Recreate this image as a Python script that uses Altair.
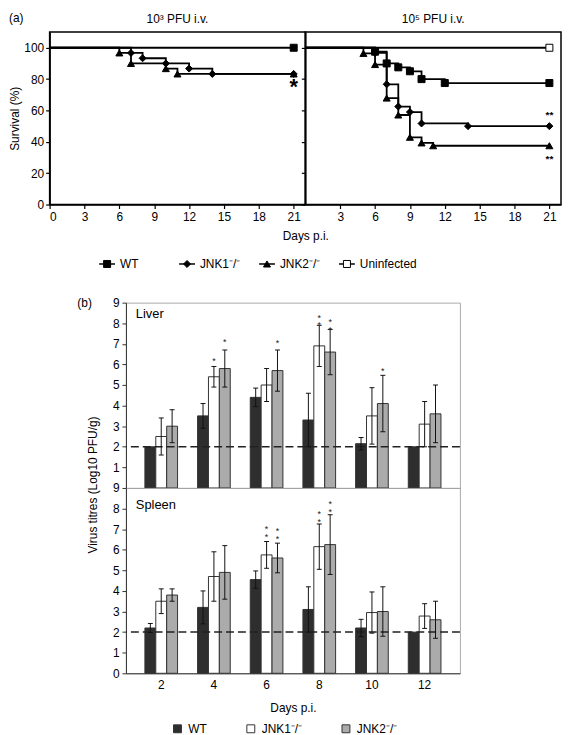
import altair as alt
import pandas as pd

# ---------------- Panel (a): survival curves ----------------
series_names = ["WT", "JNK1", "JNK2", "Uninfected"]
series_labels = ["WT", "JNK1\u207b/\u207b", "JNK2\u207b/\u207b", "Uninfected"]
series_shapes = ["square", "diamond", "triangle-up", "square"]
series_fills = ["black", "black", "black", "white"]

# 10^3 PFU i.v.
low_wt_days = [0, 21]
low_wt_surv = [100, 100]
low_jnk1_days = [0, 7, 8, 10, 12, 14, 21]
low_jnk1_surv = [100, 96.7, 93.3, 90.0, 86.7, 83.3, 83.3]
low_jnk2_days = [0, 6, 7, 10, 11, 21]
low_jnk2_surv = [100, 96.7, 90.0, 86.7, 83.3, 83.3]

# 10^5 PFU i.v.
high_unin_days = [0, 21]
high_unin_surv = [100, 100]
high_wt_days = [0, 6, 7, 8, 9, 10, 12, 21]
high_wt_surv = [100, 97.5, 90.0, 87.5, 85.0, 80.0, 77.5, 77.5]
high_jnk1_days = [0, 6, 7, 8, 9, 10, 14, 21]
high_jnk1_surv = [100, 96.7, 76.7, 62.5, 59.0, 51.7, 50.0, 50.0]
high_jnk2_days = [0, 5, 6, 7, 8, 9, 10, 11, 21]
high_jnk2_surv = [100, 96.4, 89.3, 67.9, 57.1, 42.9, 39.3, 37.5, 37.5]

sig_low_day = [21]
sig_low_val = [75]
sig_low_txt = ["*"]
sig_high_day = [21, 21]
sig_high_val = [57, 29]
sig_high_txt = ["**", "**"]

days_ticks_low = [0, 3, 6, 9, 12, 15, 18, 21]
days_ticks_high = [3, 6, 9, 12, 15, 18, 21]
surv_ticks = [0, 20, 40, 60, 80, 100]

# ---------------- Panel (b): virus titres ----------------
days_b = [2, 4, 6, 8, 10, 12]
geno_names = ["WT", "JNK1\u207b/\u207b", "JNK2\u207b/\u207b"]
geno_colors = ["#2e2e2e", "white", "#ababab"]

liver_wt = [2.0, 3.5, 4.4, 3.3, 2.15, 2.0]
liver_wt_err = [0, 0.6, 0.45, 1.3, 0.3, 0]
liver_jnk1 = [2.5, 5.4, 5.0, 6.9, 3.5, 3.1]
liver_jnk1_err = [0.9, 0.5, 0.8, 1.0, 1.37, 1.1]
liver_jnk2 = [3.0, 5.8, 5.7, 6.6, 4.1, 3.6]
liver_jnk2_err = [0.8, 0.9, 1.0, 1.1, 1.37, 1.4]

spleen_wt = [2.2, 3.2, 4.55, 3.1, 2.2, 2.0]
spleen_wt_err = [0.22, 0.8, 0.42, 1.1, 0.42, 0]
spleen_jnk1 = [3.5, 4.7, 5.75, 6.15, 2.95, 2.78]
spleen_jnk1_err = [0.6, 1.2, 0.65, 1.1, 1.0, 0.6]
spleen_jnk2 = [3.8, 4.9, 5.6, 6.25, 3.0, 2.6]
spleen_jnk2_err = [0.3, 1.3, 0.72, 1.45, 1.2, 0.9]

liver_star_day = [4, 4, 6, 8, 8, 10]
liver_star_geno = [1, 2, 2, 1, 2, 2]
liver_star_val = [6.33, 7.24, 7.19, 8.42, 8.22, 5.83]
liver_star_txt = ["*", "*", "*", "*\n*", "*\n*", "*"]
spleen_star_day = [6, 6, 8, 8]
spleen_star_geno = [1, 2, 1, 2]
spleen_star_val = [7.15, 7.03, 7.88, 8.38]
spleen_star_txt = ["*\n*", "*\n*", "*\n*", "*\n*"]

# ---------------- build tables ----------------
def surv_df(parts):
    rows = []
    for name, days, surv in parts:
        for d, s in zip(days, surv):
            rows.append({"day": d, "surv": s, "series": name})
    return pd.DataFrame(rows)

df_low = surv_df([("WT", low_wt_days, low_wt_surv),
                  ("JNK1", low_jnk1_days, low_jnk1_surv),
                  ("JNK2", low_jnk2_days, low_jnk2_surv)])
df_high = surv_df([("Uninfected", high_unin_days, high_unin_surv),
                   ("WT", high_wt_days, high_wt_surv),
                   ("JNK1", high_jnk1_days, high_jnk1_surv),
                   ("JNK2", high_jnk2_days, high_jnk2_surv)])

FS = 12
AXC = dict(labelFontSize=FS, labelColor="black", tickColor="black", domainColor="black",
           tickSize=4, grid=False, titleFontSize=FS, titleFontWeight="normal", titleColor="black",
           domainWidth=1.5, tickWidth=1.2)

PW, PH = 258, 174

def surv_panel(df, title, xticks, show_ylabels, sig_day, sig_val, sig_txt, sig_size, xtitle, extra):
    if xtitle is None:
        xaxis = alt.Axis(values=xticks, title=None, labelPadding=3, **AXC)
    else:
        xaxis = alt.Axis(values=xticks, title=xtitle, labelPadding=3, titlePadding=8,
                         titleX=0, titleAlign="center", **AXC)
    if show_ylabels:
        yaxis = alt.Axis(values=surv_ticks, title="Survival (%)", labelPadding=2, titlePadding=2, **AXC)
    else:
        yaxis = alt.Axis(values=surv_ticks, title=None, labels=False, **AXC)
    X = alt.X("day:Q", scale=alt.Scale(domain=[0, 22], nice=False, zero=False), axis=xaxis)
    Y = alt.Y("surv:Q", scale=alt.Scale(domain=[0, 110], nice=False), axis=yaxis)
    base = alt.Chart(df)
    line = base.mark_line(interpolate="step-after", color="black", strokeWidth=1.8).encode(
        x=X, y=Y, detail="series:N")
    pts = base.transform_filter("datum.day > 0").mark_point(
        filled=True, stroke="black", strokeWidth=1, size=50, opacity=1).encode(
        x=X, y=Y,
        shape=alt.Shape("series:N", scale=alt.Scale(domain=series_names, range=series_shapes), legend=None),
        fill=alt.Fill("series:N", scale=alt.Scale(domain=series_names, range=series_fills), legend=None))
    sig = alt.Chart(pd.DataFrame({"day": sig_day, "surv": sig_val, "t": sig_txt})).mark_text(
        fontSize=sig_size, fontWeight="bold", baseline="middle", color="black").encode(
        x=X, y=Y, text="t:N")
    ttl = alt.Chart(pd.DataFrame({"t": [title]})).mark_text(
        align="center", baseline="middle", fontSize=FS).encode(
        text="t:N", x=alt.value(PW / 2), y=alt.value(-13))
    return alt.layer(line, pts, sig, ttl, *extra).properties(width=PW, height=PH)

a_label = alt.Chart(pd.DataFrame({"t": ["(a)"]})).mark_text(
    align="left", baseline="middle", fontSize=FS).encode(text="t:N", x=alt.value(-41), y=alt.value(-14))
left = surv_panel(df_low, "10\u00b3 PFU i.v.", days_ticks_low, True,
                  sig_low_day, sig_low_val, sig_low_txt, 22, None, [a_label])
right = surv_panel(df_high, "10\u2075 PFU i.v.", days_ticks_high, False,
                   sig_high_day, sig_high_val, sig_high_txt, 10, "Days p.i.", [])

top_row = alt.hconcat(left, right, spacing=0, bounds="flush").resolve_scale(
    fill="independent", shape="independent")

# legend for (a)
legA = pd.DataFrame({"name": series_names, "label": series_labels})
LX = alt.X("name:N", sort=series_names, scale=alt.Scale(type="point", range=[58, 300], padding=0), axis=None)
legA_line = alt.Chart(legA).mark_point(shape="stroke", size=256, strokeWidth=1.5, color="black", opacity=1).encode(
    x=LX, y=alt.value(21))
legA_pts = alt.Chart(legA).mark_point(filled=True, stroke="black", strokeWidth=1, size=50, opacity=1).encode(
    x=LX, y=alt.value(21),
    shape=alt.Shape("name:N", scale=alt.Scale(domain=series_names, range=series_shapes), legend=None),
    fill=alt.Fill("name:N", scale=alt.Scale(domain=series_names, range=series_fills), legend=None))
legA_txt = alt.Chart(legA).mark_text(align="left", baseline="middle", dx=13, fontSize=FS).encode(
    x=LX, y=alt.value(21), text="label:N")
legend_a = alt.layer(legA_line, legA_pts, legA_txt).properties(
    width=420, height=52, view=alt.ViewBackground(stroke="transparent"))

# ---------------- (b) tables ----------------
def organ_df(organ, vals, errs):
    rows = []
    for g, v, e in zip(geno_names, vals, errs):
        for d, vv, ee in zip(days_b, v, e):
            rows.append({"organ": organ, "day": d, "geno": g, "val": vv, "err": ee})
    return pd.DataFrame(rows)

df_liver = organ_df("Liver", [liver_wt, liver_jnk1, liver_jnk2],
                    [liver_wt_err, liver_jnk1_err, liver_jnk2_err])
df_spleen = organ_df("Spleen", [spleen_wt, spleen_jnk1, spleen_jnk2],
                     [spleen_wt_err, spleen_jnk1_err, spleen_jnk2_err])
df_liver_star = pd.DataFrame({"day": liver_star_day, "geno": [geno_names[i] for i in liver_star_geno],
                              "val": liver_star_val, "s": liver_star_txt})
df_spleen_star = pd.DataFrame({"day": spleen_star_day, "geno": [geno_names[i] for i in spleen_star_geno],
                               "val": spleen_star_val, "s": spleen_star_txt})

BW, BH = 337, 187
BAX = dict(labelFontSize=FS, labelColor="black", tickColor="#333", domainColor="#333",
           tickSize=4, grid=False, titleFontSize=FS, titleFontWeight="normal", titleColor="black")

def organ_chart(df, stars, organ, yvals, bottom, label_y, extra):
    if bottom:
        xaxis = alt.Axis(title="Days p.i.", ticks=False, labelAngle=0, labelPadding=6, titlePadding=13, **BAX)
    else:
        xaxis = alt.Axis(title=None, ticks=False, labels=False, **BAX)
    yaxis = alt.Axis(values=yvals, title=None, labelPadding=3, **BAX)
    X = alt.X("day:O", scale=alt.Scale(paddingInner=0.38, paddingOuter=0.36), axis=xaxis)
    XO = alt.XOffset("geno:N", sort=geno_names, scale=alt.Scale(domain=geno_names))
    ysc = alt.Scale(domain=[0, 9], nice=False)

    def Y(f):
        return alt.Y(f, scale=ysc, axis=yaxis)

    fscale = alt.Scale(domain=geno_names, range=geno_colors)
    if bottom:
        fill = alt.Fill("geno:N", scale=fscale, legend=alt.Legend(
            orient="none", legendX=46, legendY=237, direction="horizontal", title=None,
            symbolType="square", symbolSize=64, symbolStrokeColor="#333",
            symbolStrokeWidth=1, labelFontSize=FS, columnPadding=38, labelOffset=5, symbolOpacity=1))
    else:
        fill = alt.Fill("geno:N", scale=fscale, legend=None)
    base = alt.Chart(df)
    bars = base.mark_bar(stroke="#333", strokeWidth=1, opacity=1).encode(x=X, xOffset=XO, y=Y("val:Q"), fill=fill)
    dash = alt.Chart(pd.DataFrame({"v": [2]})).mark_rule(
        strokeDash=[8, 4], color="#222", strokeWidth=1.5).encode(y=Y("v:Q"))
    eb = base.transform_filter("datum.err > 0").transform_calculate(
        lo="datum.val - datum.err", hi="datum.val + datum.err")
    err = eb.mark_rule(color="#111", strokeWidth=1).encode(x=X, xOffset=XO, y=Y("lo:Q"), y2="hi:Q")
    cap_lo = eb.mark_tick(color="#111", size=5, thickness=1, orient="horizontal", opacity=1).encode(
        x=X, xOffset=XO, y=Y("lo:Q"))
    cap_hi = eb.mark_tick(color="#111", size=5, thickness=1, orient="horizontal", opacity=1).encode(
        x=X, xOffset=XO, y=Y("hi:Q"))
    st = alt.Chart(stars).mark_text(fontSize=9, baseline="middle", dy=3, color="#222",
                                    lineBreak="\n", lineHeight=8).encode(
        x=X, xOffset=XO, y=Y("val:Q"), text="s:N")
    lab = alt.Chart(pd.DataFrame({"t": [organ]})).mark_text(
        align="left", baseline="middle", fontSize=13).encode(text="t:N", x=alt.value(10), y=alt.value(label_y))
    layers = [bars, dash, err, cap_lo, cap_hi, st, lab] + extra
    return alt.layer(*layers).properties(
        width=BW, height=BH, view=alt.ViewBackground(stroke="#aaa", strokeWidth=1))

b_label = alt.Chart(pd.DataFrame({"t": ["(b)"]})).mark_text(
    align="left", baseline="middle", fontSize=FS).encode(text="t:N", x=alt.value(-49), y=alt.value(0))
ytitle = alt.Chart(pd.DataFrame({"t": ["Virus titres (Log10 PFU/g)"]})).mark_text(
    angle=270, baseline="middle", align="center", fontSize=FS).encode(
    text="t:N", x=alt.value(-33), y=alt.value(BH - 3))

liver = organ_chart(df_liver, df_liver_star, "Liver", [1, 2, 3, 4, 5, 6, 7, 8, 9], False, 11,
                    [b_label, ytitle])
spleen = organ_chart(df_spleen, df_spleen_star, "Spleen", [0, 1, 2, 3, 4, 5, 6, 7, 8, 9], True, 17, [])

panel_b = alt.vconcat(liver, spleen, spacing=0, bounds="flush").resolve_scale(
    fill="independent").resolve_legend(fill="independent")

blank = alt.Chart(pd.DataFrame({"a": [0]})).mark_rule(opacity=0).encode(
    x=alt.value(0), y=alt.value(0), y2=alt.value(1)).properties(
    width=26, height=10, view=alt.ViewBackground(stroke="transparent"))

b_row = alt.hconcat(blank, panel_b, spacing=0).resolve_scale(
    fill="independent").resolve_legend(fill="independent")

chart = alt.vconcat(top_row, legend_a, b_row, spacing=0).resolve_scale(
    fill="independent", shape="independent").resolve_legend(
    fill="independent", shape="independent").properties(
    padding={"left": 0, "top": 0, "right": 0, "bottom": 0}
).configure(font="Liberation Sans").configure_view(stroke="black", strokeWidth=1.5)

chart.save("out.html", embed_options={"renderer": "svg", "actions": False})
